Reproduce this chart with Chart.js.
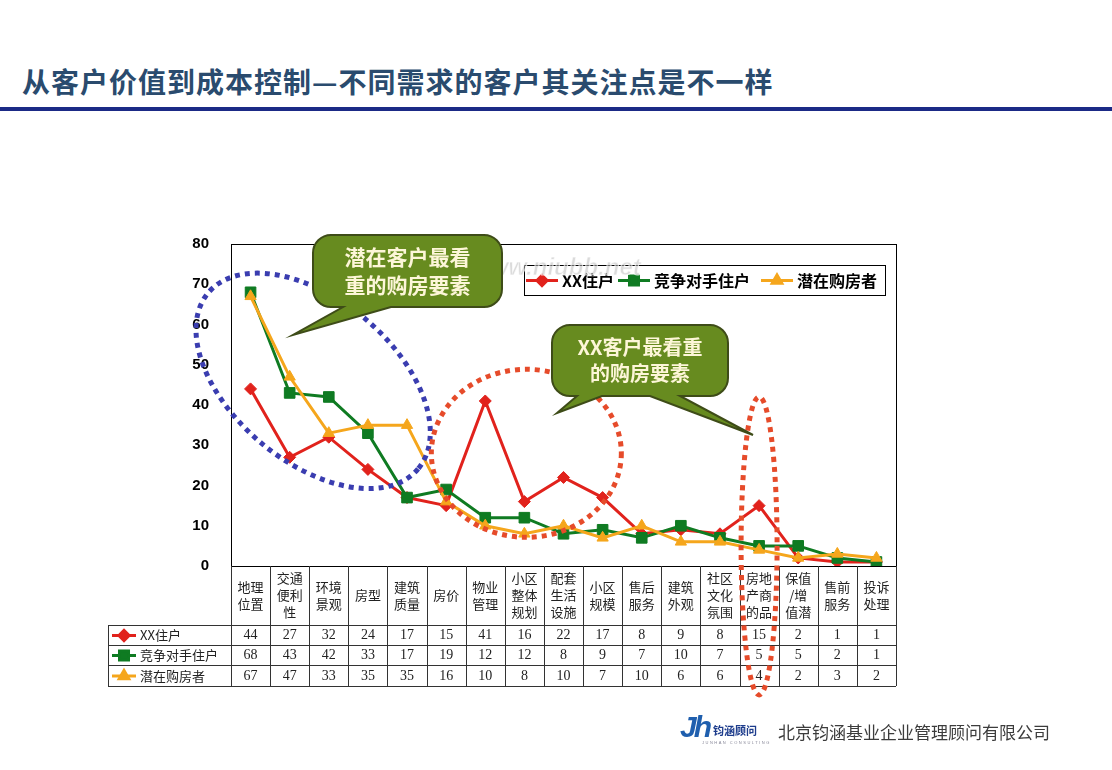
<!DOCTYPE html>
<html>
<head>
<meta charset="utf-8">
<title>从客户价值到成本控制</title>
<script src="https://cdn.jsdelivr.net/npm/chart.js@4.4.0/dist/chart.umd.min.js"></script>
<style>
    html, body { margin: 0; padding: 0; background: #fff; }
    body { width: 1112px; height: 770px; position: relative; overflow: hidden; font-family: "Noto Sans CJK SC", sans-serif; }
    #title { position: absolute; left: 22px; top: 61px; font-size: 28px; font-weight: bold; color: #2a4b6e; letter-spacing: 1px; white-space: nowrap; line-height: 40px; }
    #rule { position: absolute; left: 0; top: 107px; width: 1112px; height: 4px; background: #1b2a86; }
    #chart { position: absolute; left: 0; top: 0; }
    #logo { position: absolute; left: 680px; top: 714px; width: 90px; height: 34px; }
    #logo .jh { position: absolute; left: 0; top: -4px; font: italic bold 30px "Liberation Sans", sans-serif; color: #1f5fae; letter-spacing: -3px; }
    #logo .cn { position: absolute; left: 33px; top: 8px; font-size: 11px; font-weight: bold; color: #1d3c8c; white-space: nowrap; }
    #logo .en { position: absolute; left: 22px; top: 26px; font: 4px "Liberation Sans", sans-serif; color: #889; letter-spacing: 1.5px; white-space: nowrap; }
    #company { position: absolute; left: 778px; top: 719px; font-size: 17px; color: #3c3c3c; white-space: nowrap; line-height: 26px; }
</style>
</head>
<body>
<div id="title">从客户价值到成本控制—不同需求的客户其关注点是不一样</div>
<div id="rule"></div>
<canvas id="chart" width="1112" height="770"></canvas>
<div id="logo"><span class="jh">Jh</span><span class="cn">钧涵顾问</span><span class="en">JUNHAN CONSULTING</span></div>
<div id="company">北京钧涵基业企业管理顾问有限公司</div>

<script>
'use strict';

// ============================================================
// Data
// ============================================================
const categories = [
    ['地理', '位置'], ['交通', '便利', '性'], ['环境', '景观'], ['房型'], ['建筑', '质量'],
    ['房价'], ['物业', '管理'], ['小区', '整体', '规划'], ['配套', '生活', '设施'], ['小区', '规模'],
    ['售后', '服务'], ['建筑', '外观'], ['社区', '文化', '氛围'], ['房地', '产商', '的品'],
    ['保值', '/增', '值潜'], ['售前', '服务'], ['投诉', '处理']
];
const seriesNames    = ['XX住户', '竞争对手住户', '潜在购房者'];
const xxValues       = [44, 27, 32, 24, 17, 15, 41, 16, 22, 17, 8, 9, 8, 15, 2, 1, 1];
const rivalValues    = [68, 43, 42, 33, 17, 19, 12, 12, 8, 9, 7, 10, 7, 5, 5, 2, 1];
const prospectValues = [67, 47, 33, 35, 35, 16, 10, 8, 10, 7, 10, 6, 6, 4, 2, 3, 2];
const yMin = 0, yMax = 80, yStep = 10;

const bubbleTexts = [
    ['潜在客户最看', '重的购房要素'],
    ['XX客户最看重', '的购房要素']
];

const RED = '#e1221c', GREEN = '#0f7b22', ORANGE = '#f5a61c';
const seriesStyles = [
    { color: RED,    pointStyle: 'rectRot',  radius: 6 },
    { color: GREEN,  pointStyle: 'rect',     radius: 7.5 },
    { color: ORANGE, pointStyle: 'triangle', radius: 6.5 }
];
const seriesValues = [xxValues, rivalValues, prospectValues];

// ============================================================
// Helpers
// ============================================================
function legendSample(ctx, x, y, len, style) {
    ctx.save();
    ctx.strokeStyle = style.color;
    ctx.fillStyle = style.color;
    ctx.lineWidth = 3;
    ctx.beginPath();
    ctx.moveTo(x, y);
    ctx.lineTo(x + len, y);
    ctx.stroke();
    Chart.helpers.drawPoint(ctx, { pointStyle: style.pointStyle, radius: style.radius * 0.85, rotation: 0, borderWidth: 1 }, x + len / 2, y);
    ctx.restore();
}

function dottedEllipse(ctx, cx, cy, rx, ry, rot, color) {
    ctx.save();
    ctx.strokeStyle = color;
    ctx.lineWidth = 5;
    ctx.setLineDash([5, 5]);
    ctx.beginPath();
    ctx.ellipse(cx, cy, rx, ry, rot, 0, Math.PI * 2);
    ctx.stroke();
    ctx.restore();
}

// rounded box with one or more tails hanging from its bottom edge
function bubble(ctx, x, y, w, h, r, tails, lines, fontSize) {
    const b = y + h;
    ctx.save();
    ctx.beginPath();
    ctx.moveTo(x + r, y);
    ctx.lineTo(x + w - r, y);
    ctx.arcTo(x + w, y, x + w, y + r, r);
    ctx.lineTo(x + w, b - r);
    ctx.arcTo(x + w, b, x + w - r, b, r);
    tails.slice().sort((p, q) => q.b2 - p.b2).forEach(t => {
        ctx.lineTo(t.b2, b);
        ctx.lineTo(t.tx, t.ty);
        ctx.lineTo(t.b1, b);
    });
    ctx.lineTo(x + r, b);
    ctx.arcTo(x, b, x, b - r, r);
    ctx.lineTo(x, y + r);
    ctx.arcTo(x, y, x + r, y, r);
    ctx.closePath();
    ctx.fillStyle = '#678b1f';
    ctx.fill();
    ctx.lineWidth = 2;
    ctx.strokeStyle = '#3e4c18';
    ctx.stroke();

    ctx.fillStyle = '#fdf6d8';
    ctx.font = 'bold ' + fontSize + 'px "Noto Sans CJK SC"';
    ctx.textAlign = 'center';
    ctx.textBaseline = 'middle';
    const lh = fontSize * 1.3;
    const cy = y + h / 2 - (lines.length - 1) * lh / 2;
    lines.forEach((s, i) => ctx.fillText(s, x + w / 2, cy + i * lh));
    ctx.restore();
}

// ============================================================
// Plugin: frame, data table, legend, callouts
// ============================================================
const decorPlugin = {
    id: 'decor',
    beforeDatasetsDraw(chart) {
        const { ctx, chartArea: a } = chart;
        ctx.save();
        ctx.strokeStyle = '#000';
        ctx.lineWidth = 1;
        ctx.strokeRect(a.left + 0.5, a.top + 0.5, a.right - a.left, a.bottom - a.top);
        ctx.restore();
    },
    afterDatasetsDraw(chart) {
        const { ctx, chartArea: a, scales: { x, y } } = chart;
        const colW = (a.right - a.left) / categories.length;
        const headBot = a.bottom + 59;
        const rowH = [20, 20, 21];
        const tableLeft = 108;
        const rowTops = [headBot, headBot + rowH[0], headBot + rowH[0] + rowH[1]];
        const tableBot = rowTops[2] + rowH[2];

        // ---- data table ----
        ctx.save();
        ctx.strokeStyle = '#333';
        ctx.lineWidth = 1;
        ctx.beginPath();
        rowTops.concat([tableBot]).forEach(ty => {
            ctx.moveTo(tableLeft, Math.round(ty) + 0.5);
            ctx.lineTo(a.right, Math.round(ty) + 0.5);
        });
        for (let i = 0; i <= categories.length; i++) {
            const bx = Math.round(a.left + i * colW) + 0.5;
            ctx.moveTo(bx, a.bottom);
            ctx.lineTo(bx, tableBot);
        }
        ctx.moveTo(tableLeft + 0.5, headBot);
        ctx.lineTo(tableLeft + 0.5, tableBot);
        ctx.stroke();

        ctx.fillStyle = '#222';
        ctx.textAlign = 'center';
        ctx.textBaseline = 'middle';
        ctx.font = '13px "Noto Sans CJK SC"';
        const headMid = (a.bottom + headBot) / 2;
        categories.forEach((lines, i) => {
            const cx = x.getPixelForValue(i);
            const y0 = headMid - (lines.length - 1) * 8.5;
            lines.forEach((s, k) => ctx.fillText(s, cx, y0 + k * 17));
        });

        seriesValues.forEach((vals, r) => {
            const cy = rowTops[r] + rowH[r] / 2 + 0.5;
            ctx.font = '14px "Liberation Serif"';
            ctx.textAlign = 'center';
            ctx.fillStyle = '#222';
            vals.forEach((v, i) => ctx.fillText(String(v), x.getPixelForValue(i), cy));
            legendSample(ctx, tableLeft + 4, cy, 24, seriesStyles[r]);
            ctx.font = '13px "Noto Sans CJK SC"';
            ctx.textAlign = 'left';
            ctx.fillStyle = '#222';
            ctx.fillText(seriesNames[r], tableLeft + 32, cy);
        });
        ctx.restore();

        // ---- legend box ----
        ctx.save();
        const lg = { left: a.left + 293, top: a.top + 21, right: a.right - 11, bottom: a.top + 51 };
        ctx.fillStyle = '#fff';
        ctx.fillRect(lg.left, lg.top, lg.right - lg.left, lg.bottom - lg.top);
        ctx.strokeStyle = '#000';
        ctx.lineWidth = 1;
        ctx.strokeRect(lg.left + 0.5, lg.top + 0.5, lg.right - lg.left, lg.bottom - lg.top);
        const lcy = (lg.top + lg.bottom) / 2 + 0.5;
        const itemX = [lg.left + 2, lg.left + 94, lg.left + 237];
        ctx.font = 'bold 16px "Noto Sans CJK SC"';
        ctx.fillStyle = '#000';
        ctx.textBaseline = 'middle';
        seriesNames.forEach((name, i) => {
            legendSample(ctx, itemX[i], lcy, 32, seriesStyles[i]);
            ctx.fillStyle = '#000';
            ctx.fillText(name, itemX[i] + 36, lcy);
        });
        ctx.restore();

        // watermark
        ctx.save();
        ctx.font = 'italic bold 24px "Liberation Sans"';
        ctx.textBaseline = 'middle';
        ctx.fillStyle = 'rgba(190,190,190,0.55)';
        ctx.strokeStyle = 'rgba(255,255,255,0.7)';
        ctx.lineWidth = 1;
        ctx.fillText('www.niubb.net', a.left + 240, a.top + 24);
        ctx.strokeText('www.niubb.net', a.left + 240, a.top + 24);
        ctx.restore();

        // ---- dotted ellipses ----
        dottedEllipse(ctx, x.getPixelForValue(1.6), y.getPixelForValue(46), 137, 81, 40 * Math.PI / 180, '#3a3db0');
        dottedEllipse(ctx, x.getPixelForValue(7.05), y.getPixelForValue(28), 95, 84, 0, '#e64b2a');
        dottedEllipse(ctx, x.getPixelForValue(13), y.getPixelForValue(5), 18, 149, 0, '#e64b2a');

        // ---- callouts ----
        bubble(ctx, a.left + 82, a.top - 9, 189, 72, 18,
            [{ b1: a.left + 112, b2: a.left + 160, tx: a.left + 62, ty: a.top + 91 }],
            bubbleTexts[0], 21);
        bubble(ctx, a.left + 321, a.top + 81, 176, 71, 18,
            [{ b1: a.left + 346, b2: a.left + 371, tx: a.left + 326, ty: a.top + 169 },
             { b1: a.left + 419, b2: a.left + 449, tx: a.left + 522, ty: a.top + 191 }],
            bubbleTexts[1], 20);
    }
};

// ============================================================
// Chart
// ============================================================
function makeDataset(i, order) {
    const s = seriesStyles[i];
    return {
        label: seriesNames[i],
        data: seriesValues[i],
        borderColor: s.color,
        backgroundColor: s.color,
        borderWidth: 3,
        pointStyle: s.pointStyle,
        pointRadius: s.radius,
        pointBorderWidth: 1,
        pointBorderColor: s.color,
        tension: 0,
        order: order
    };
}

new Chart(document.getElementById('chart'), {
    type: 'line',
    data: {
        labels: categories.map(c => c.join('')),
        datasets: [makeDataset(0, 3), makeDataset(1, 2), makeDataset(2, 1)]
    },
    options: {
        responsive: false,
        devicePixelRatio: 1,
        animation: false,
        layout: { padding: { left: 191, right: 216, top: 244, bottom: 204 } },
        plugins: { legend: { display: false }, tooltip: { enabled: false } },
        scales: {
            x: { display: false, offset: true },
            y: {
                min: yMin, max: yMax,
                afterFit: s => { s.width = 40; },
                grid: { display: false },
                border: { display: true, color: '#000', width: 1 },
                ticks: {
                    stepSize: yStep,
                    padding: 14,
                    color: '#000',
                    font: { family: '"Liberation Sans", Arial, sans-serif', size: 15, weight: 'bold' }
                }
            }
        }
    },
    plugins: [decorPlugin]
});
</script>
</body>
</html>
